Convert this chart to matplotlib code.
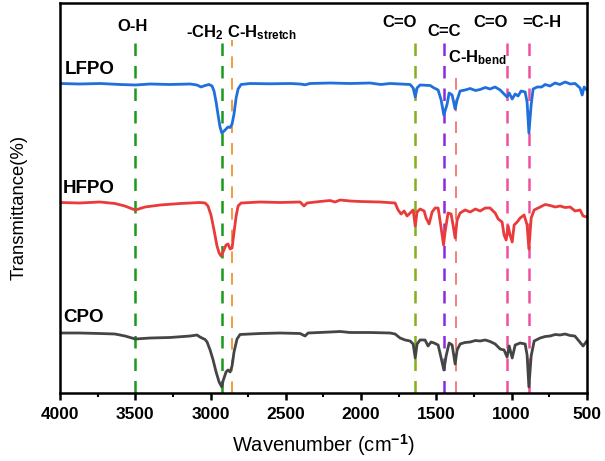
import matplotlib as mpl
import matplotlib.pyplot as plt
from matplotlib.ticker import MultipleLocator

# Spectra (wavenumber in cm-1, stacked transmittance in arbitrary units)
lfpo_wn = [4000, 3870, 3735, 3600, 3500, 3400, 3270, 3135, 3090, 3063, 3036, 3010, 2990, 2977, 2963, 2950, 2937, 2925,
	2910, 2897, 2884, 2870, 2857, 2844, 2830, 2817, 2797, 2737, 2605, 2472, 2405, 2372, 2339, 2206, 2073, 1940, 1870,
	1807, 1741, 1674, 1654, 1640, 1628, 1608, 1541, 1515, 1488, 1468, 1450, 1428, 1415, 1395, 1375, 1362, 1342, 1309,
	1275, 1240, 1209, 1175, 1143, 1110, 1076, 1050, 1030, 1016, 996, 976, 957, 937, 910, 897, 885, 870, 857, 830, 800,
	777, 745, 711, 680, 644, 610, 578, 545, 531, 518, 500]
lfpo_t = [309.5, 309, 309.5, 308.5, 308, 309, 308.5, 309, 308, 306, 307.5, 308.5, 307, 302, 291, 278, 266, 260,
	262, 264, 266, 265.5, 269, 279, 295, 304, 308.5, 309.5, 309.2, 309.5, 309, 308.2, 309.5, 310, 309.5, 310, 308.5,
	309.5, 309, 308.5, 305, 296, 305, 308, 307.5, 305, 303, 293, 278, 289, 300, 298, 284, 293, 302, 303,
	304.5, 302.5, 303.5, 305.5, 304, 306, 303, 299, 296, 300, 294, 299, 297, 302, 301, 291, 260, 288, 304, 306, 306,
	308.5, 307, 310, 308.5, 311, 309, 309.5, 305, 298, 306, 303]

hfpo_wn = [4000, 3870, 3735, 3635, 3570, 3500, 3435, 3335, 3200, 3070, 3036, 3017, 2997, 2977, 2957, 2943, 2930,
	2917, 2897, 2884, 2870, 2857, 2844, 2830, 2817, 2797, 2671, 2538, 2405, 2379, 2359, 2272, 2206, 2173, 2139, 2073,
	2007, 1874, 1774, 1754, 1734, 1714, 1694, 1674, 1654, 1640, 1628, 1608, 1581, 1568, 1548, 1528, 1508, 1488, 1468,
	1452, 1442, 1422, 1402, 1389, 1375, 1362, 1342, 1309, 1275, 1240, 1209, 1175, 1143, 1109, 1089, 1063, 1050, 1036,
	1023, 1010, 996, 983, 963, 943, 917, 897, 885, 870, 850, 810, 777, 744, 710, 678, 645, 611, 578, 545, 525, 500]
hfpo_t = [190.5, 190, 191, 189.5, 187, 183, 186, 188, 189.5, 190.5, 190, 187, 178, 163, 147, 140, 137,
	141, 148, 149, 144, 145, 161, 177, 187, 190, 191, 190.5, 191, 187, 190, 191.5, 192.5, 191, 193, 192,
	191.5, 191, 190, 183, 179, 182, 177, 180, 183, 167, 181, 184, 182, 175, 169, 181, 185, 185, 165,
	148, 161, 180, 179, 168, 155, 173, 180, 183, 181, 184, 182, 185, 185, 180, 174, 171, 158, 153,
	167, 158, 151, 168, 171, 175, 178, 168, 144, 175, 183, 186, 188.5, 187.5, 186, 187, 185.5, 186, 182, 183, 177, 176]

cpo_wn = [4000, 3870, 3735, 3635, 3568, 3500, 3400, 3270, 3135, 3090, 3070, 3050, 3036, 3023, 3003, 2983, 2963, 2943,
	2925, 2917, 2897, 2884, 2870, 2857, 2844, 2824, 2804, 2671, 2538, 2405, 2372, 2352, 2206, 2139, 2073, 1940, 1807,
	1774, 1741, 1707, 1674, 1654, 1640, 1628, 1608, 1575, 1555, 1535, 1515, 1488, 1468, 1450, 1435, 1415, 1395, 1375,
	1362, 1342, 1310, 1275, 1240, 1209, 1175, 1143, 1109, 1076, 1050, 1030, 1016, 996, 976, 943, 910, 897, 885, 870,
	850, 810, 777, 744, 710, 678, 645, 611, 580, 558, 525, 500]
cpo_t = [60, 60, 59.5, 59, 57, 54, 55, 55.5, 57, 58, 56, 54.5, 53.5, 51, 43, 33, 21, 11,
	6, 12, 21, 23, 21, 27, 41, 54, 58.5, 59.5, 60, 59.5, 57, 60, 61, 61.5, 60.5, 60.5, 60,
	59, 55, 53, 52, 49, 35, 49, 53, 53, 47, 51, 50, 48, 35, 23, 37, 50, 48, 29,
	43, 49, 50.5, 51, 52.5, 52, 53, 51.5, 49, 44, 43, 36, 47, 35, 48, 50, 49, 38, 6, 37,
	52, 55, 56.5, 57, 58.5, 58, 59, 57.5, 57, 53, 47, 52]

sample_names = ['LFPO', 'HFPO', 'CPO']
sample_colors = ['#1f6fdc', '#ea3a3a', '#454545']

# Band assignments (dashed guide lines)
band_wn = [3500, 2925, 2860, 1640, 1450, 1370, 1030, 885]
band_colors = ['#1a9a1a', '#1a9a1a', '#f08a24', '#82b01e', '#8a2be2', '#f06a6a', '#f0509e', '#f0509e']

def main ():
	plt.rcParams['font.family'] = 'Liberation Sans'
	plt.rcParams['font.weight'] = 'bold'
	plt.rcParams['mathtext.fontset'] = 'custom'
	plt.rcParams['mathtext.rm'] = 'Liberation Sans:bold'
	plt.rcParams['mathtext.bf'] = 'Liberation Sans:bold'
	plt.rcParams['mathtext.default'] = 'bf'
	mpl.rcParams['text.antialiased'] = True

	fig = plt.figure(figsize = (6.05, 4.61), dpi = 100)
	ax = fig.add_axes([0.0992, 0.1475, 0.8708, 0.846])

	# dashed band markers
	for i in range(len(band_wn)):
		top = 0.823 if band_wn[i] == 1370 else 0.905
		lw = 1.2 if band_wn[i] in (1370, 2860) else 1.8
		dash = (0, (7, 6)) if lw < 1.5 else (0, (5, 4))
		ax.axvline(band_wn[i], ymin = 0, ymax = top, color = band_colors[i], lw = lw, linestyle = dash, zorder = 1)

	ax.plot(lfpo_wn, lfpo_t, color = sample_colors[0], lw = 2.0, zorder = 2)
	ax.plot(hfpo_wn, hfpo_t, color = sample_colors[1], lw = 2.0, zorder = 2)
	ax.plot(cpo_wn, cpo_t, color = sample_colors[2], lw = 2.0, zorder = 2)

	# sample labels
	ax.text(3970, 323, sample_names[0], fontsize = 13.5, ha = 'left', va = 'center')
	ax.text(3980, 204, sample_names[1], fontsize = 13.5, ha = 'left', va = 'center')
	ax.text(3980, 76, sample_names[2], fontsize = 13.5, ha = 'left', va = 'center')

	# band labels
	fs = 12
	ax.text(3520, 366, 'O-H', fontsize = fs, ha = 'center', va = 'center')
	ax.text(3160, 360, r'-CH$_{2}$', fontsize = fs, ha = 'left', va = 'center')
	ax.text(2890, 360, r'C-H$_{stretch}$', fontsize = fs, ha = 'left', va = 'center')
	ax.text(1741, 370, 'C=O', fontsize = fs, ha = 'center', va = 'center')
	ax.text(1448, 361, 'C=C', fontsize = fs, ha = 'center', va = 'center')
	ax.text(1422, 335, r'C-H$_{bend}$', fontsize = fs, ha = 'left', va = 'center')
	ax.text(1136, 370, 'C=O', fontsize = fs, ha = 'center', va = 'center')
	ax.text(797, 370, '=C-H', fontsize = fs, ha = 'center', va = 'center')

	ax.set_xlim([4000, 500])
	ax.set_ylim([0, 390])
	ax.xaxis.set_major_locator(MultipleLocator(500))
	ax.xaxis.set_minor_locator(MultipleLocator(250))
	ax.tick_params(axis = 'x', which = 'major', direction = 'out', length = 5, width = 1.8, labelsize = 12.5, pad = 5)
	ax.tick_params(axis = 'x', which = 'minor', direction = 'out', length = 3, width = 1.5)
	ax.set_yticks([])
	for spine in ax.spines.values():
		spine.set_linewidth(1.8)
	ax.set_xlabel(r'Wavenumber (cm$^{\mathbf{-1}}$)', fontsize = 14.5, labelpad = 7)
	ax.set_ylabel('Transmittance(%)', fontsize = 13.3)
	ax.yaxis.set_label_coords(-0.062, 0.477)

	plt.savefig('out.png', dpi = 100)
	plt.close()

if __name__ == '__main__':
	main()
